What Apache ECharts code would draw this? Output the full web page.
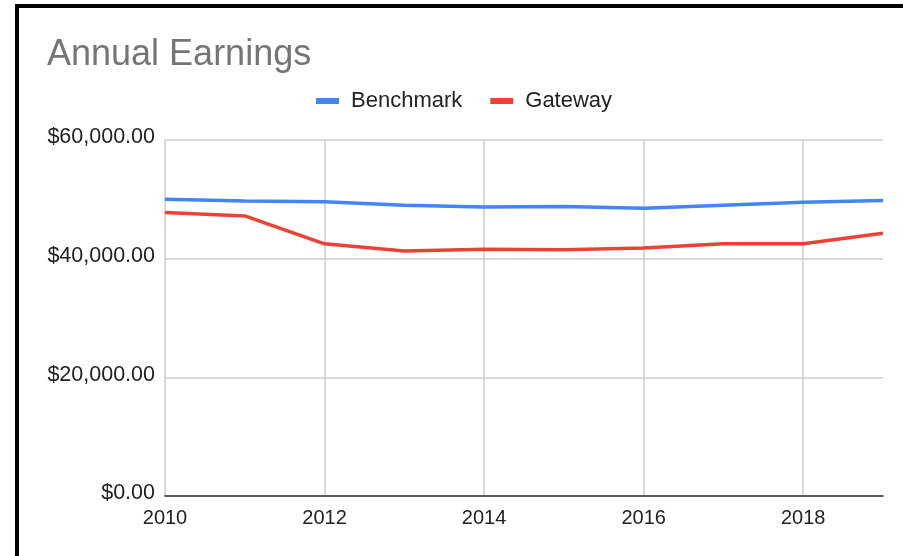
<!DOCTYPE html>
<html>
<head>
<meta charset="utf-8">
<script src="https://cdn.jsdelivr.net/npm/echarts@6/dist/echarts.min.js"></script>
<style>
html,body{margin:0;padding:0;background:#fff;}
#chart{width:903px;height:556px;}
</style>
</head>
<body>
<div id="chart"></div>
<script>
const years = ['2010','2011','2012','2013','2014','2015','2016','2017','2018','2019'];
const benchmark = [50000, 49700, 49600, 49000, 48700, 48800, 48500, 49000, 49500, 49800];
const gateway = [47800, 47200, 42500, 41300, 41600, 41500, 41800, 42500, 42500, 44300];
const yTicks = [0, 20000, 40000, 60000];

function money(v){
  const s = Math.round(v).toString().replace(/\B(?=(\d{3})+(?!\d))/g, ',');
  return '$' + s + '.00';
}

const FONT = 'Arial, "Liberation Sans", sans-serif';
const chart = echarts.init(document.getElementById('chart'));
chart.setOption({
  animation: false,
  backgroundColor: '#fff',
  title: {
    text: 'Annual Earnings',
    left: 42, top: 32,
    textStyle: {color: '#757575', fontSize: 36, fontWeight: 'normal', fontFamily: FONT}
  },
  legend: {
    left: 311, top: 85,
    itemWidth: 23, itemHeight: 6, itemGap: 28,
    icon: 'rect',
    textStyle: {color: '#222', fontSize: 22, fontFamily: FONT, padding: [0,0,0,7]},
    data: ['Benchmark', 'Gateway']
  },
  grid: {left: 165, right: 20, top: 140, bottom: 60, containLabel: false},
  xAxis: {
    type: 'category',
    data: years,
    boundaryGap: false,
    axisLine: {show: true, lineStyle: {color: '#333', width: 1.5}},
    axisTick: {show: false},
    axisLabel: {interval: 1, color: '#222', fontSize: 20, fontFamily: FONT, margin: 12},
    splitLine: {show: true, interval: 1, lineStyle: {color: '#cccccc', width: 1.5}}
  },
  yAxis: {
    type: 'value',
    min: yTicks[0], max: yTicks[yTicks.length-1], interval: 20000,
    axisLine: {show: false},
    axisTick: {show: false},
    axisLabel: {formatter: money, color: '#222', fontSize: 21.5, fontFamily: FONT, margin: 10, verticalAlign: 'bottom', lineHeight: 21, padding: [0,0,-8,0]},
    splitLine: {show: true, lineStyle: {color: '#cccccc', width: 1.5}}
  },
  series: [
    {name: 'Benchmark', type: 'line', data: benchmark, symbol: 'none', lineStyle: {color: '#4285F4', width: 3.5}, itemStyle: {color: '#4285F4'}},
    {name: 'Gateway', type: 'line', data: gateway, symbol: 'none', lineStyle: {color: '#EA4335', width: 3.5}, itemStyle: {color: '#EA4335'}}
  ],
  graphic: [
    {type: 'rect', shape: {x: 15, y: 4, width: 4, height: 552}, style: {fill: '#000'}, z: 100},
    {type: 'rect', shape: {x: 15, y: 4, width: 888, height: 4}, style: {fill: '#000'}, z: 100}
  ]
});
</script>
</body>
</html>
